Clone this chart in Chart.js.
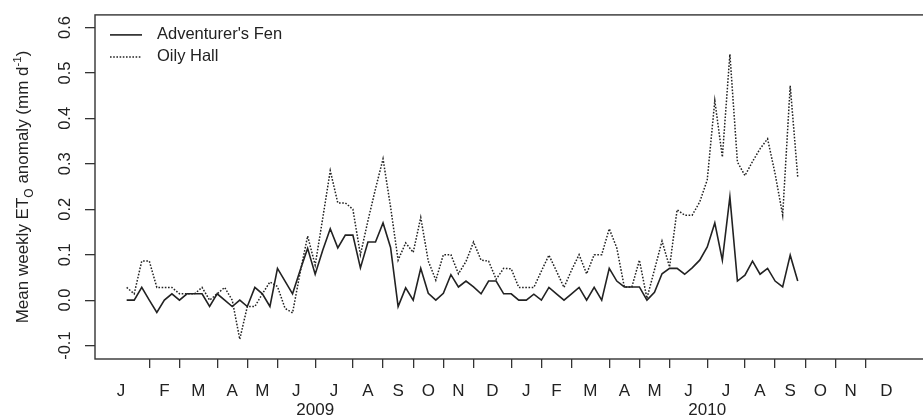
<!DOCTYPE html>
<html>
<head>
<meta charset="utf-8">
<title>Mean weekly ETo anomaly</title>
<script src="https://cdn.jsdelivr.net/npm/chart.js@4"></script>
<style>
  html, body { margin: 0; padding: 0; background: #fff; overflow: hidden; }
  #wrap { width: 930px; height: 418px; position: relative; }
</style>
</head>
<body>
<div id="wrap"><canvas id="etoChart"></canvas></div>
<script>
// Weekly anomalies, week 1 = first week of January 2009
const fenValues = [
  0.000, 0.000, 0.028, 0.000, -0.027, 0.000, 0.014, 0.000, 0.014, 0.014,
  0.014, -0.014, 0.014, 0.000, -0.014, 0.000, -0.014, 0.028, 0.014, -0.014,
  0.070, 0.042, 0.014, 0.065, 0.114, 0.057, 0.110, 0.157, 0.115, 0.143,
  0.143, 0.071, 0.128, 0.128, 0.170, 0.116, -0.014, 0.027, 0.000, 0.070,
  0.015, 0.000, 0.015, 0.056, 0.029, 0.042, 0.029, 0.014, 0.042, 0.042,
  0.014, 0.014, 0.000, 0.000, 0.013, 0.000, 0.028, 0.014, 0.000, 0.014,
  0.028, 0.000, 0.028, 0.000, 0.070, 0.042, 0.029, 0.029, 0.029, 0.000,
  0.017, 0.058, 0.070, 0.070, 0.057, 0.071, 0.088, 0.117, 0.170, 0.088,
  0.227, 0.042, 0.055, 0.086, 0.057, 0.070, 0.042, 0.029, 0.099, 0.042
];

const oilyValues = [
  0.028, 0.014, 0.086, 0.086, 0.028, 0.028, 0.028, 0.014, 0.014, 0.014,
  0.028, 0.000, 0.014, 0.028, 0.000, -0.086, -0.014, -0.014, 0.014, 0.040,
  0.030, -0.018, -0.028, 0.060, 0.141, 0.077, 0.180, 0.285, 0.214, 0.214,
  0.200, 0.100, 0.175, 0.245, 0.311, 0.205, 0.088, 0.126, 0.105, 0.182,
  0.086, 0.044, 0.100, 0.100, 0.058, 0.085, 0.128, 0.088, 0.086, 0.046,
  0.070, 0.069, 0.028, 0.028, 0.028, 0.064, 0.099, 0.064, 0.028, 0.066,
  0.100, 0.058, 0.100, 0.100, 0.157, 0.115, 0.029, 0.029, 0.088, 0.004,
  0.067, 0.130, 0.073, 0.199, 0.187, 0.187, 0.216, 0.265, 0.439, 0.315,
  0.541, 0.304, 0.274, 0.305, 0.333, 0.355, 0.278, 0.187, 0.472, 0.271
];

const seriesNames = ["Adventurer's Fen", "Oily Hall"];

// Month labels and the week numbers where each month begins (last = end of Dec 2010)
const monthLabels = ["J", "F", "M", "A", "M", "J", "J", "A", "S", "O", "N", "D",
                     "J", "F", "M", "A", "M", "J", "J", "A", "S", "O", "N", "D"];
const monthStarts = [-3.5, 4, 8, 13, 17, 21, 26, 31, 35, 39, 43, 47,
                     52, 56, 60, 65, 69, 73, 78, 83, 87, 91, 95, 99, 104.5];

const yearLabels = ["2009", "2010"];
const yearWeeks = [26, 78];

const yTicks = [-0.1, 0.0, 0.1, 0.2, 0.3, 0.4, 0.5, 0.6];

const INK = "#222";
const FONT = "'Liberation Sans', Arial, sans-serif";

// Month boundary ticks (marks only) and mid-month ticks (labels only)
const boundTicks = monthStarts.slice(1, -1);
const midTicks = monthLabels.map((m, i) => (monthStarts[i] + monthStarts[i + 1]) / 2);

function isBound(v) {
  return boundTicks.some(b => Math.abs(b - v) < 1e-6);
}

function monthLabelFor(v) {
  const i = midTicks.findIndex(m => Math.abs(m - v) < 1e-6);
  return i >= 0 ? monthLabels[i] : "";
}

function toPoints(values) {
  return values.map((v, i) => ({ x: i + 1, y: v }));
}

// Box around the plot area
const boxPlugin = {
  id: "box",
  afterDraw(chart) {
    const a = chart.chartArea;
    const ctx = chart.ctx;
    ctx.save();
    ctx.strokeStyle = "#333";
    ctx.lineWidth = 1.4;
    ctx.strokeRect(a.left, a.top, a.right - a.left, a.bottom - a.top);
    ctx.restore();
  }
};

// Legend in the top-left corner, drawn from the dataset styles
const legendPlugin = {
  id: "cornerLegend",
  afterDraw(chart) {
    const a = chart.chartArea;
    const ctx = chart.ctx;
    ctx.save();
    ctx.font = "16.5px " + FONT;
    ctx.textBaseline = "middle";
    ctx.fillStyle = INK;
    chart.data.datasets.forEach((ds, i) => {
      const y = a.top + 20 + i * 22;
      ctx.beginPath();
      ctx.strokeStyle = ds.borderColor;
      ctx.lineWidth = ds.borderWidth;
      ctx.setLineDash(ds.borderDash || []);
      ctx.moveTo(a.left + 15, y);
      ctx.lineTo(a.left + 47, y);
      ctx.stroke();
      ctx.setLineDash([]);
      ctx.fillText(ds.label, a.left + 62, y);
    });
    ctx.restore();
  }
};

// Rotated y-axis title with subscript and superscript
const yTitlePlugin = {
  id: "yTitle",
  afterDraw(chart) {
    const a = chart.chartArea;
    const ctx = chart.ctx;
    const parts = [
      { t: "Mean weekly ET", size: 17, dy: 0 },
      { t: "O", size: 12, dy: 4.5 },
      { t: " anomaly (mm d", size: 17, dy: 0 },
      { t: "-1", size: 11.5, dy: -7 },
      { t: ")", size: 17, dy: 0 }
    ];
    ctx.save();
    let total = 0;
    parts.forEach(p => {
      ctx.font = p.size + "px " + FONT;
      p.w = ctx.measureText(p.t).width;
      total += p.w;
    });
    ctx.translate(22, (a.top + a.bottom) / 2);
    ctx.rotate(-Math.PI / 2);
    ctx.fillStyle = INK;
    ctx.textBaseline = "alphabetic";
    let x = -total / 2;
    parts.forEach(p => {
      ctx.font = p.size + "px " + FONT;
      ctx.fillText(p.t, x, 6 + p.dy);
      x += p.w;
    });
    ctx.restore();
  }
};

function initChart() {
  const canvas = document.getElementById("etoChart");
  if (!canvas || typeof Chart === "undefined") return;

  new Chart(canvas, {
    type: "line",
    data: {
      datasets: [
        {
          label: seriesNames[0],
          data: toPoints(fenValues),
          borderColor: INK,
          borderWidth: 1.6,
          pointRadius: 0,
          tension: 0,
          fill: false
        },
        {
          label: seriesNames[1],
          data: toPoints(oilyValues),
          borderColor: INK,
          borderWidth: 1.5,
          borderDash: [1.6, 1.6],
          pointRadius: 0,
          tension: 0,
          fill: false
        }
      ]
    },
    options: {
      responsive: true,
      maintainAspectRatio: false,
      animation: false,
      layout: { padding: { top: 14, left: 0, right: 0, bottom: 0 } },
      plugins: {
        legend: { display: false },
        tooltip: { enabled: false }
      },
      scales: {
        x: {
          type: "linear",
          position: "bottom",
          min: -3.2,
          max: 107.54,
          afterBuildTicks: scale => {
            scale.ticks = boundTicks.concat(midTicks)
              .sort((p, q) => p - q)
              .map(v => ({ value: v }));
          },
          afterFit: scale => { scale.height = 40; },
          border: { display: false },
          grid: {
            drawOnChartArea: false,
            drawTicks: true,
            tickLength: 9,
            lineWidth: 1.3,
            tickColor: ctx => (ctx.tick && isBound(ctx.tick.value)) ? "#333" : "rgba(0,0,0,0)"
          },
          ticks: {
            autoSkip: false,
            maxRotation: 0,
            minRotation: 0,
            padding: 13,
            color: INK,
            font: { family: FONT, size: 17 },
            callback: value => monthLabelFor(value)
          }
        },
        years: {
          type: "linear",
          position: "bottom",
          min: -3.2,
          max: 107.54,
          afterBuildTicks: scale => {
            scale.ticks = yearWeeks.map(v => ({ value: v }));
          },
          afterFit: scale => { scale.height = 19; },
          border: { display: false },
          grid: { display: false, drawTicks: false },
          ticks: {
            autoSkip: false,
            maxRotation: 0,
            minRotation: 0,
            padding: 1,
            color: INK,
            font: { family: FONT, size: 17 },
            callback: value => yearLabels[yearWeeks.indexOf(value)]
          }
        },
        y: {
          type: "linear",
          min: -0.1295,
          max: 0.6277,
          afterBuildTicks: scale => {
            scale.ticks = yTicks.map(v => ({ value: v }));
          },
          afterFit: scale => { scale.width = 95; },
          border: { display: false },
          grid: {
            drawOnChartArea: false,
            drawTicks: true,
            tickLength: 10,
            lineWidth: 1.3,
            tickColor: "#333"
          },
          ticks: {
            autoSkip: false,
            minRotation: 90,
            maxRotation: 90,
            crossAlign: "center",
            padding: 5,
            color: INK,
            font: { family: FONT, size: 16.5 },
            callback: value => Number(value).toFixed(1)
          }
        }
      }
    },
    plugins: [boxPlugin, legendPlugin, yTitlePlugin]
  });
}

if (document.readyState === "loading") {
  document.addEventListener("DOMContentLoaded", initChart);
} else {
  initChart();
}
</script>
</body>
</html>
